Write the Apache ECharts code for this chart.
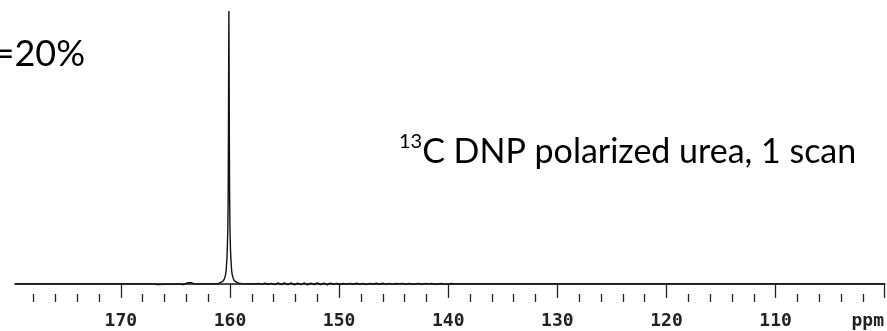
<!DOCTYPE html>
<html>
<head>
<meta charset="utf-8">
<script src="https://cdn.jsdelivr.net/npm/echarts@6/dist/echarts.min.js"></script>
<style>
    html, body { margin: 0; padding: 0; background: #fff; }
    #chart { width: 887px; height: 331px; }
</style>
</head>
<body>
<div id="chart"></div>
<script>
    // ppm axis, reversed like an NMR plot
    const majorTicks = [100, 110, 120, 130, 140, 150, 160, 170];
    const minorTicks = [102, 104, 106, 108, 112, 114, 116, 118, 122, 124, 126, 128,
        132, 134, 136, 138, 142, 144, 146, 148, 152, 154, 156, 158,
        162, 164, 166, 168, 172, 174, 176, 178];

    // flat part + small spikes left of the peak [ppm, %]
    const leftBase = [
        [179.7, 0], [169.7, 0], [169.6, 0.4], [169.5, 0], [166.9, 0], [166.8, 0.5], [166.7, -0.2],
        [166.6, 0], [164.5, 0], [164.4, 0.4], [164.3, -0.3], [164.2, 0], [163.9, 0.4], [163.8, -0.2],
        [163.5, 0.4], [163.4, -0.2], [163.3, 0], [161.2, 0]
    ];

    // urea carbonyl line
    const peak = [
        [161.0, 0.3], [160.8, 0.6], [160.6, 1.2], [160.5, 2.0], [160.4, 3.5], [160.35, 5],
        [160.3, 8], [160.25, 12], [160.2, 20], [160.17, 30], [160.14, 55], [160.12, 80],
        [160.1, 100], [160.08, 80], [160.06, 55], [160.03, 30], [160.0, 20], [159.95, 12],
        [159.9, 8], [159.85, 5], [159.8, 3.5], [159.7, 2.0], [159.6, 1.2], [159.4, 0.6],
        [159.2, 0.3], [158.8, 0]
    ];

    // noisy band right of the peak, then a few lone spikes
    const rightBase = [
        [157.7, 0], [157.4, 0.2], [157.1, -0.2], [156.8, 0.25], [156.5, -0.15], [156.2, 0.2],
        [155.9, -0.3], [155.6, 0.35], [155.3, -0.3], [155.0, 0.35], [154.7, -0.3], [154.4, 0.35],
        [154.1, -0.35], [153.8, 0.3], [153.5, -0.3], [153.2, 0.35], [152.9, -0.35], [152.6, 0.3],
        [152.3, -0.3], [152.0, 0.35], [151.7, -0.3], [151.4, 0.3], [151.1, -0.35], [150.8, 0.3],
        [150.5, -0.2], [150.2, 0.2], [149.9, -0.15], [149.6, 0.15], [149.3, -0.2], [149.0, 0.2],
        [148.7, -0.2], [148.4, 0.25], [148.1, -0.2], [147.8, 0.2], [147.5, -0.25], [147.2, 0.2],
        [146.9, -0.2], [146.6, 0.25], [146.3, -0.2], [146.0, 0.25], [145.7, -0.15], [145.4, 0.2],
        [145.1, -0.2], [144.8, 0.15], [144.5, 0], [144.2, 0.2], [143.9, -0.2], [143.6, 0.2],
        [143.3, -0.15], [143.0, 0], [142.7, 0.2], [142.4, -0.2], [142.1, 0.2], [141.8, 0],
        [141.5, 0.2], [141.2, -0.15], [140.9, 0], [140.6, 0.15], [140.3, -0.15], [140.0, 0],
        [139.7, 0.15], [139.4, 0], [138.6, 0], [138.5, 0.3], [138.4, 0], [135.7, 0],
        [135.6, 0.4], [135.5, 0], [132.5, 0], [132.4, 0.4], [132.3, 0], [123.2, 0],
        [123.1, 0.5], [123.0, 0], [113.8, 0], [113.7, 0.4], [113.6, 0], [101.1, 0],
        [101.0, 0.5], [100.9, 0], [100, 0]
    ];

    const spectrum = leftBase.concat(peak, rightBase);

    const chart = echarts.init(document.getElementById('chart'));
    const option = {
        animation: false,
        grid: {
            left: 15,
            right: 2,
            top: 11,
            bottom: 37
        },
        xAxis: [{
            type: 'value',
            inverse: true,
            min: 100,
            max: 179.7,
            position: 'bottom',
            splitLine: { show: false },
            axisLine: { show: true, lineStyle: { color: '#111', width: 1.5 } },
            axisTick: {
                show: true,
                customValues: majorTicks,
                length: 14,
                lineStyle: { color: '#222', width: 1.3 }
            },
            axisLabel: {
                customValues: majorTicks,
                margin: 18,
                color: '#222',
                fontFamily: 'DejaVu Sans Mono',
                fontWeight: 'bold',
                fontSize: 18,
                formatter: v => (v === 100 ? '{u|ppm}' : String(v)),
                rich: {
                    u: {
                        fontFamily: 'DejaVu Sans Mono',
                        fontWeight: 'bold',
                        fontSize: 18,
                        color: '#222',
                        padding: [0, 34, 0, 0]
                    }
                }
            }
        }, {
            type: 'value',
            inverse: true,
            min: 100,
            max: 179.7,
            position: 'bottom',
            splitLine: { show: false },
            axisLine: { show: false },
            axisTick: {
                show: true,
                customValues: minorTicks,
                length: 8,
                lineStyle: { color: '#222', width: 1.3 }
            },
            axisLabel: { show: false }
        }],
        yAxis: {
            type: 'value',
            min: -3.7,
            max: 100,
            show: false
        },
        series: [{
            type: 'line',
            xAxisIndex: 0,
            data: spectrum,
            showSymbol: false,
            sampling: false,
            lineStyle: { color: '#111', width: 1.4 }
        }],
        graphic: [{
            type: 'text',
            right: 887 - 85,
            top: 36,
            style: {
                text: '=20%',
                fontFamily: 'Lato',
                fontSize: 36,
                fill: '#000'
            }
        }, {
            type: 'text',
            left: 399,
            top: 132,
            style: {
                text: '{s|13}{b|C DNP polarized urea, 1 scan}',
                rich: {
                    s: {
                        fontFamily: 'Lato',
                        fontSize: 20,
                        lineHeight: 22,
                        verticalAlign: 'top',
                        fill: '#000'
                    },
                    b: {
                        fontFamily: 'Lato',
                        fontSize: 34,
                        lineHeight: 40,
                        fill: '#000'
                    }
                }
            }
        }]
    };
    chart.setOption(option);
</script>
</body>
</html>
